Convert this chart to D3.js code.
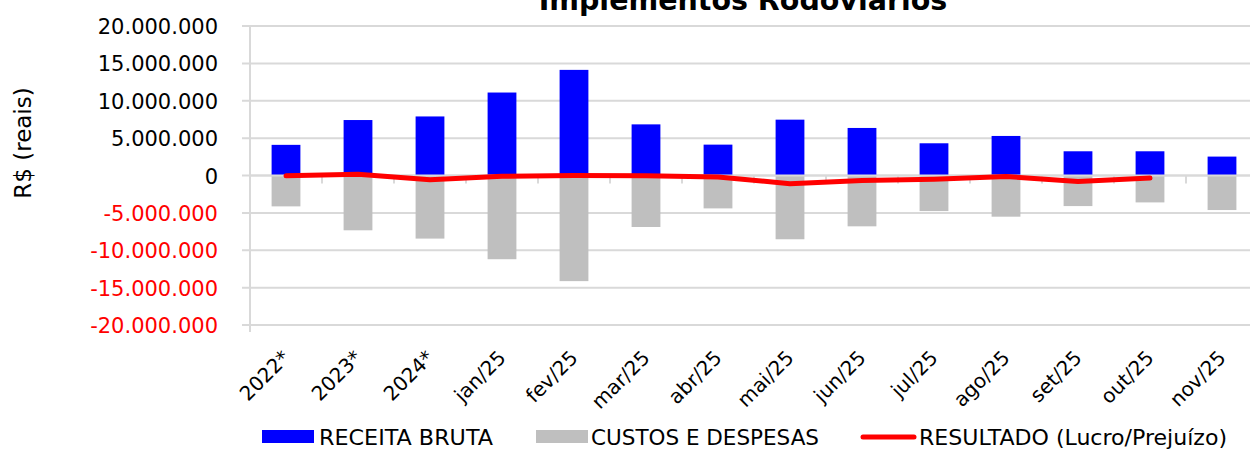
<!DOCTYPE html>
<html>
<head>
<meta charset="utf-8">
<script src="https://cdn.jsdelivr.net/npm/d3@7"></script>
<style>
  body { margin: 0; background: #fff; }
  svg { display: block; font-family: "DejaVu Sans", Verdana, sans-serif; }
</style>
</head>
<body>
<svg id="chart" width="1250" height="449"></svg>
<script>
const categories = ["2022*", "2023*", "2024*", "jan/25", "fev/25", "mar/25", "abr/25",
    "mai/25", "jun/25", "jul/25", "ago/25", "set/25", "out/25", "nov/25"];
const receitaBruta = [4100000, 7420000, 7900000, 11100000, 14130000, 6840000, 4130000,
    7470000, 6360000, 4310000, 5290000, 3240000, 3240000, 2530000];
const custosDespesas = [-4130000, -7330000, -8440000, -11200000, -14130000, -6890000, -4400000,
    -8530000, -6800000, -4760000, -5510000, -4090000, -3600000, -4620000];
const resultado = [-50000, 170000, -570000, -100000, 0, -50000, -200000,
    -1100000, -670000, -500000, -130000, -800000, -350000, null];
const yTicks = [20000000, 15000000, 10000000, 5000000, 0, -5000000, -10000000, -15000000, -20000000];
const legendItems = ["RECEITA BRUTA", "CUSTOS E DESPESAS", "RESULTADO (Lucro/Prejuízo)"];

const largeur = 1250, hauteur = 449;
const plotLeft = 250, plotRight = 1258, plotTop = 26, plotBottom = 325;

const svg = d3.select("#chart");

const br = d3.formatLocale({ decimal: ",", thousands: ".", grouping: [3], currency: ["R$", ""], minus: "-" });
const fmt = br.format(",.0f");

const x = d3.scaleBand().domain(categories).range([plotLeft, plotRight]).padding(0);
const y = d3.scaleLinear().domain([-20000000, 20000000]).range([plotBottom, plotTop]);
const barW = x.bandwidth() * 0.4;

// grid lines
svg.append("g")
    .selectAll("line")
    .data(yTicks)
    .enter()
    .append("line")
    .attr("x1", plotLeft - 8)
    .attr("x2", largeur)
    .attr("y1", (d) => y(d))
    .attr("y2", (d) => y(d))
    .attr("stroke", "#d9d9d9")
    .attr("stroke-width", 2);

// y axis line
svg.append("line")
    .attr("x1", plotLeft).attr("x2", plotLeft)
    .attr("y1", plotTop).attr("y2", plotBottom + 7)
    .attr("stroke", "#d9d9d9")
    .attr("stroke-width", 2);

// y tick labels
svg.append("g")
    .selectAll("text")
    .data(yTicks)
    .enter()
    .append("text")
    .text((d) => fmt(d))
    .attr("x", 218)
    .attr("y", (d) => y(d) + 8)
    .attr("text-anchor", "end")
    .style("font-size", "21px")
    .style("fill", (d) => d < 0 ? "#ff0000" : "#000");

// y title
svg.append("text")
    .text("R$ (reais)")
    .attr("transform", "translate(31,143) rotate(-90)")
    .attr("text-anchor", "middle")
    .style("font-size", "23px");

// x tick marks on zero line
svg.append("g")
    .selectAll("line")
    .data(categories.slice(1))
    .enter()
    .append("line")
    .attr("x1", (d) => x(d))
    .attr("x2", (d) => x(d))
    .attr("y1", y(0))
    .attr("y2", y(0) + 8)
    .attr("stroke", "#d9d9d9")
    .attr("stroke-width", 2);

// bars
svg.append("g")
    .selectAll("rect")
    .data(custosDespesas)
    .enter()
    .append("rect")
    .attr("x", (d, i) => x(categories[i]) + (x.bandwidth() - barW) / 2)
    .attr("y", y(0))
    .attr("width", barW)
    .attr("height", (d) => y(d) - y(0))
    .attr("fill", "#bfbfbf");

svg.append("g")
    .selectAll("rect")
    .data(receitaBruta)
    .enter()
    .append("rect")
    .attr("x", (d, i) => x(categories[i]) + (x.bandwidth() - barW) / 2)
    .attr("y", (d) => y(d))
    .attr("width", barW)
    .attr("height", (d) => y(0) - y(d))
    .attr("fill", "#0000ff");

// zero line on top
svg.append("line")
    .attr("x1", plotLeft).attr("x2", largeur)
    .attr("y1", y(0)).attr("y2", y(0))
    .attr("stroke", "#d9d9d9")
    .attr("stroke-width", 2);

// resultado line
const line = d3.line()
    .defined((d) => d != null)
    .x((d, i) => x(categories[i]) + x.bandwidth() / 2)
    .y((d) => y(d));

svg.append("path")
    .datum(resultado)
    .attr("d", line)
    .attr("fill", "none")
    .attr("stroke", "#ff0000")
    .attr("stroke-width", 5)
    .attr("stroke-linecap", "round")
    .attr("stroke-linejoin", "round");

// x labels
svg.append("g")
    .selectAll("text")
    .data(categories)
    .enter()
    .append("text")
    .text((d) => d)
    .attr("transform", (d) => "translate(" + (x(d) + x.bandwidth() / 2 + 5) + "," + 359 + ") rotate(-45)")
    .attr("text-anchor", "end")
    .style("font-size", "20px");

// title
svg.append("text")
    .text("Implementos Rodoviários")
    .attr("x", 743)
    .attr("y", 10)
    .attr("text-anchor", "middle")
    .style("font-size", "28.5px")
    .style("font-weight", "bold");

// legend
const legend = svg.append("g");
legend.append("rect").attr("x", 262).attr("y", 430).attr("width", 52).attr("height", 13).attr("fill", "#0000ff");
legend.append("rect").attr("x", 536).attr("y", 430).attr("width", 52).attr("height", 13).attr("fill", "#bfbfbf");
legend.append("line").attr("x1", 863).attr("x2", 914).attr("y1", 437).attr("y2", 437)
    .attr("stroke", "#ff0000").attr("stroke-width", 5).attr("stroke-linecap", "round");
legend.selectAll("text")
    .data(legendItems)
    .enter()
    .append("text")
    .text((d) => d)
    .attr("x", (d, i) => [319, 591, 919][i])
    .attr("y", 445)
    .attr("textLength", (d, i) => [174, 228, 308][i])
    .attr("lengthAdjust", "spacingAndGlyphs")
    .style("font-size", "21px");
</script>
</body>
</html>
